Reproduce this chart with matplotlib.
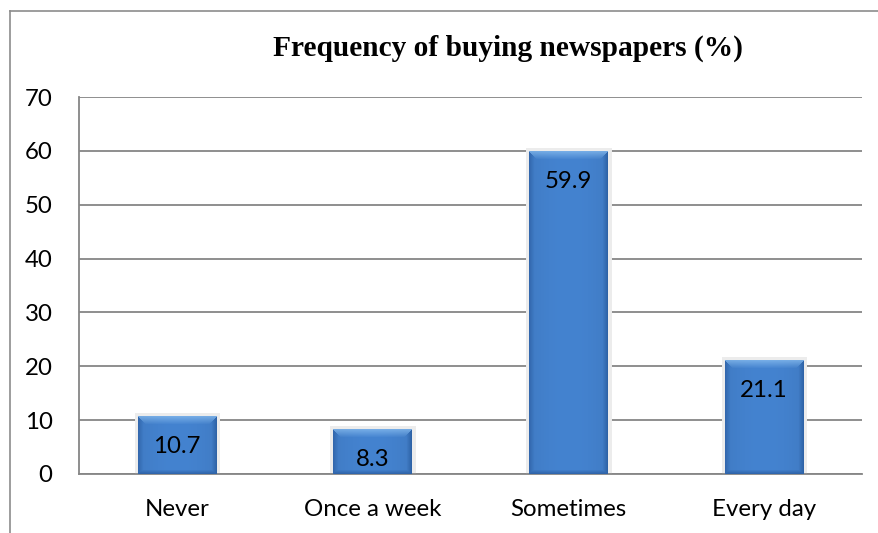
import numpy as np
import matplotlib
matplotlib.use("Agg")
import matplotlib.pyplot as plt
from matplotlib.lines import Line2D

# Survey results
categories = ["Never", "Once a week", "Sometimes", "Every day"]
values = [10.7, 8.3, 59.9, 21.1]
yticks = [0, 10, 20, 30, 40, 50, 60, 70]
title = "Frequency of buying newspapers (%)"

W, H, DPI = 879, 533, 100
fig = plt.figure(figsize=(W / DPI, H / DPI), dpi=DPI)
fig.patch.set_facecolor("white")

# outer chart frame (left and top edges visible)
frame_c = "#8c8c8c"
fx, fy = 9.5 / W, (H - 10.5) / H
fig.add_artist(Line2D([fx, fx], [0, fy], transform=fig.transFigure,
                      color=frame_c, linewidth=1.2))
fig.add_artist(Line2D([fx, 1], [fy, fy], transform=fig.transFigure,
                      color=frame_c, linewidth=1.2))

ax = fig.add_axes([79 / W, (H - 474) / H, (862 - 79) / W, (474 - 97) / H])
x = np.arange(len(categories))
bar_w = 0.40

ax.set_xlim(-0.5, len(categories) - 0.5)
ax.set_ylim(yticks[0], yticks[-1])

grid_c = "#868686"
ax.set_yticks(yticks)
ax.yaxis.grid(True, color=grid_c, linewidth=1.3)
ax.set_axisbelow(True)
for s in ["top", "right"]:
    ax.spines[s].set_visible(False)
for s in ["left", "bottom"]:
    ax.spines[s].set_color(grid_c)
    ax.spines[s].set_linewidth(1.3)

tick_font = dict(family="Lato", size=17.3, color="black")
ax.tick_params(axis="both", length=0)
ax.tick_params(axis="y", pad=19)
ax.tick_params(axis="x", pad=18)
ax.set_xticks(x)
ax.set_xticklabels(categories, **tick_font)
ax.set_yticklabels([str(t) for t in yticks], **tick_font)

# soft halo behind each bar
ax.bar(x, values, width=bar_w, color="#4a86cf", edgecolor="#ececec",
       linewidth=5, zorder=2)

base = np.array([68, 131, 208]) / 255.0


def bevel(wpx, hpx):
    """Bevelled fill: light top edge, darker sides and bottom."""
    hpx = max(int(round(hpx)), 2)
    wpx = max(int(round(wpx)), 2)
    jj, ii = np.meshgrid(np.arange(wpx), np.arange(hpx))
    dl = jj.astype(float)
    dr = wpx - 1 - jj.astype(float)
    dt = ii.astype(float)
    db = hpx - 1 - ii.astype(float)
    img = np.tile(base, (hpx, wpx, 1))
    # gentle horizontal shading
    u = jj / (wpx - 1)
    img = img * (1.0 - 0.06 * np.abs(2 * u - 1) ** 2)[..., None]
    bt, bs, bb = 8.0, 5.0, 4.0
    top = (dt < bt) & (dt <= dl) & (dt <= dr)
    left = (dl < bs) & (dl < dt) & (dl <= db)
    right = (dr < bs) & (dr < dt) & (dr <= db)
    bottom = (db < bb) & (db < dl) & (db < dr)
    light = np.array([150, 200, 245]) / 255.0
    dark = np.array([30, 75, 140]) / 255.0
    t = np.clip(1 - dt / bt, 0, 1)[..., None] * 0.6
    img = np.where(top[..., None], img * (1 - t) + light * t, img)
    t = np.clip(1 - dl / bs, 0, 1)[..., None] * 0.4
    img = np.where(left[..., None], img * (1 - t) + dark * t, img)
    t = np.clip(1 - dr / bs, 0, 1)[..., None] * 0.5
    img = np.where(right[..., None], img * (1 - t) + dark * t, img)
    t = np.clip(1 - db / bb, 0, 1)[..., None] * 0.5
    img = np.where(bottom[..., None], img * (1 - t) + dark * t, img)
    return np.clip(img, 0, 1)


for xi, v in zip(x, values):
    p0 = ax.transData.transform((xi - bar_w / 2, 0))
    p1 = ax.transData.transform((xi + bar_w / 2, v))
    img = bevel(p1[0] - p0[0], p1[1] - p0[1])
    ax.imshow(img, extent=(xi - bar_w / 2, xi + bar_w / 2, 0, v),
              aspect="auto", origin="upper", interpolation="bilinear",
              zorder=3)
    ax.annotate(f"{v}", xy=(xi, v), xytext=(0, -21.5),
                textcoords="offset points", ha="center", va="center",
                zorder=4, **tick_font)

ax.set_xlim(-0.5, len(categories) - 0.5)
ax.set_ylim(yticks[0], yticks[-1])

fig.text(508 / W, (H - 56) / H, title, ha="center", va="baseline",
         family="Liberation Serif", weight="bold", size=21.2, color="black")

fig.savefig("out.png", dpi=DPI)
